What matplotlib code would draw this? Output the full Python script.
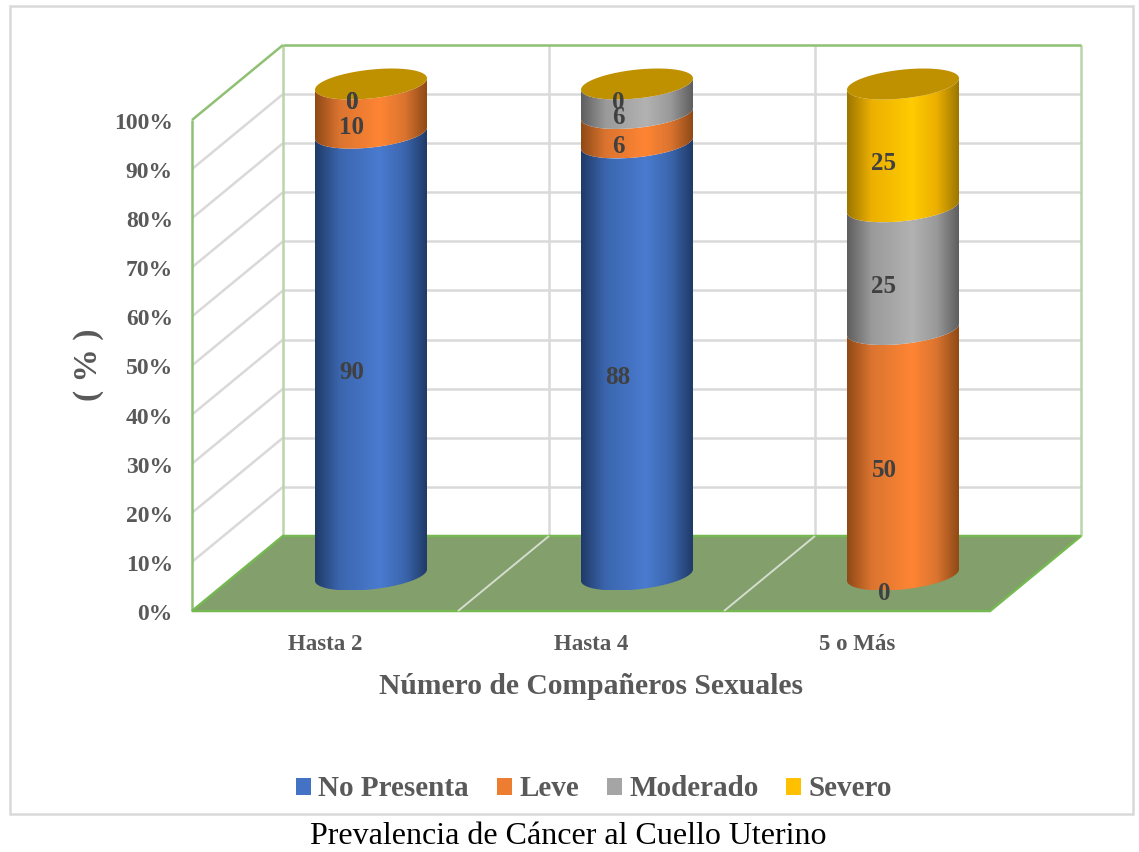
import numpy as np
import matplotlib
matplotlib.use('Agg')
import matplotlib.pyplot as plt
from matplotlib.colors import LinearSegmentedColormap
from matplotlib.patches import Patch, Polygon, Rectangle

plt.rcParams['font.family'] = ['Liberation Serif', 'DejaVu Serif']

categories = ['Hasta 2', 'Hasta 4', '5 o Más']
series_names = ['No Presenta', 'Leve', 'Moderado', 'Severo']
no_presenta = [90, 88, 0]
leve = [10, 6, 50]
moderado = [0, 6, 25]
severo = [0, 0, 25]
percent_ticks = [0, 10, 20, 30, 40, 50, 60, 70, 80, 90, 100]

legend_colors = ['#4472C4', '#ED7D31', '#A5A5A5', '#FFC000']
# edge, shoulder, centre colours of the cylinder shading
shades = [('#203A68', '#3B66AE', '#4A7BD0'),
          ('#8F4A16', '#DB7430', '#FF8533'),
          ('#5E5E5E', '#9A9A9A', '#B2B2B2'),
          ('#9C7600', '#ECB000', '#FFCB00')]
cap_colors = ['#2F5597', '#C55A11', '#7B7B7B', '#BF9000']

W, H = 1139, 852
PX_X = 266.0     # pixels per category
PX_Y = 4.91      # pixels per percent
X0, Y0 = 325.0, 611.0   # first category centre, zero line of the front edge
DEPTH_X = 91 / PX_X
DEPTH_Y = 75 / PX_Y
BAR_DX = 46 / PX_X
BAR_DY = 36 / PX_Y
BAR_RX = 56 / PX_X
CAP_TILT = 5.7 / PX_Y
CAP_RY = 14.4 / PX_Y
LABEL_DX = -19 / PX_X
LABEL_DY = -18.5 / PX_Y

GRID = '#D9D9D9'
GREEN = '#8FC073'
PALE_GREEN = '#BBD5AB'
TEXT = '#595959'

fig = plt.figure(figsize=(W / 100, H / 100), dpi=100)
ax = fig.add_axes([0, 0, 1, 1])


def wall_lines(xs, ys, color=GRID, lw=1.8, z=1):
    ax.plot(xs, ys, color=color, lw=lw, zorder=z, solid_capstyle='butt')


# back and side walls
left, right = -0.5, len(categories) - 0.5
for v in percent_ticks[1:-1]:
    wall_lines([left, left + DEPTH_X], [v, v + DEPTH_Y])
    wall_lines([left + DEPTH_X, right + DEPTH_X], [v + DEPTH_Y, v + DEPTH_Y])
for i in range(1, len(categories)):
    wall_lines([left + i + DEPTH_X] * 2, [DEPTH_Y, 100 + DEPTH_Y])
wall_lines([left + DEPTH_X] * 2, [DEPTH_Y, 100 + DEPTH_Y], PALE_GREEN)
wall_lines([right + DEPTH_X] * 2, [DEPTH_Y, 100 + DEPTH_Y], PALE_GREEN)
wall_lines([left + DEPTH_X, right + DEPTH_X], [100 + DEPTH_Y] * 2, GREEN, z=2)
wall_lines([left, left + DEPTH_X], [100, 100 + DEPTH_Y], GREEN, z=2)
wall_lines([left, left], [0, 100], GREEN, z=2)

# floor
ax.add_patch(Polygon([(left, 0), (right, 0), (right + DEPTH_X, DEPTH_Y), (left + DEPTH_X, DEPTH_Y)],
                     closed=True, facecolor='#829F6C', edgecolor='#76B852', lw=1.8, zorder=3))
for i in range(1, len(categories)):
    wall_lines([left + i, left + i + DEPTH_X], [0, DEPTH_Y], '#D5DDCD', 1.4, 4)


def half_ring(cx, v):
    # lower half of the tilted ellipse, left to right
    t = np.linspace(np.pi, 0, 60)
    xs = cx + BAR_RX * np.cos(t)
    ys = v + BAR_DY + CAP_TILT * np.cos(t) - CAP_RY * np.sin(t)
    return np.column_stack([xs, ys])


def full_ring(cx, v):
    t = np.linspace(0, 2 * np.pi, 120)
    xs = cx + BAR_RX * np.cos(t)
    ys = v + BAR_DY + CAP_TILT * np.cos(t) - CAP_RY * np.sin(t)
    return np.column_stack([xs, ys])


def draw_segment(cx, v0, v1, shade):
    outline = np.vstack([half_ring(cx, v0), half_ring(cx, v1)[::-1]])
    cmap = LinearSegmentedColormap.from_list(
        'cyl', [(0, shade[0]), (0.22, shade[1]), (0.58, shade[2]), (0.8, shade[1]), (1, shade[0])])
    grad = np.linspace(0, 1, 256)[None, :]
    im = ax.imshow(grad, cmap=cmap, aspect='auto', zorder=5, interpolation='bilinear',
                   extent=[cx - BAR_RX, cx + BAR_RX,
                           outline[:, 1].min(), outline[:, 1].max()])
    clip = Polygon(outline, closed=True, transform=ax.transData)
    im.set_clip_path(clip)


stack = [no_presenta, leve, moderado, severo]
for i in range(len(categories)):
    cx = i + BAR_DX
    base = 0
    for s, values in enumerate(stack):
        val = values[i]
        if val > 0:
            draw_segment(cx, base, base + val, shades[s])
        mid = base + val / 2
        ax.text(cx + LABEL_DX, mid + BAR_DY + LABEL_DY, str(val), ha='center', va='center',
                fontsize=18, fontweight='bold', color='#404040', zorder=8)
        base += val
    # the empty top series still leaves its cap on the stack
    ax.add_patch(Polygon(full_ring(cx, base), closed=True, facecolor=cap_colors[-1],
                         edgecolor='none', zorder=6))

# axis texts
for v in percent_ticks:
    ax.text(left - 19 / PX_X, v - 0.7, f'{v}%', ha='right', va='center',
            fontsize=17, fontweight='bold', color=TEXT)
for i, name in enumerate(categories):
    ax.text(i, -34 / PX_Y, name, ha='center', va='center',
            fontsize=16.5, fontweight='bold', color=TEXT)
ax.text(1, -75 / PX_Y, 'Número de Compañeros Sexuales', ha='center', va='center',
        fontsize=21.3, fontweight='bold', color=TEXT)
ax.text((89 - X0) / PX_X, (Y0 - 365) / PX_Y, '( % )', ha='center', va='center', rotation=90,
        fontsize=24, fontweight='bold', color=TEXT)

handles = [Patch(facecolor=c, edgecolor='none', label=n) for c, n in zip(legend_colors, series_names)]
ax.legend(handles=handles, ncol=4, frameon=False, loc='center', bbox_to_anchor=(594 / W, 1 - 789 / H),
          bbox_transform=fig.transFigure, prop={'size': 21, 'weight': 'bold'}, labelcolor=TEXT,
          handlelength=0.52, handleheight=0.52, handletextpad=0.25, columnspacing=0.95)

ax.set_xlim(-X0 / PX_X, (W - X0) / PX_X)
ax.set_ylim((Y0 - H) / PX_Y, Y0 / PX_Y)
ax.axis('off')

# chart frame and caption
fig.add_artist(Rectangle((10 / W, 1 - 814 / H), 1123 / W, 808 / H, transform=fig.transFigure,
                         fill=False, edgecolor=GRID, lw=1.8))
fig.text(568 / W, 1 - 837 / H, 'Prevalencia de Cáncer al Cuello Uterino', ha='center', va='center',
         fontsize=23, color='black')

fig.savefig('out.png', dpi=100)
